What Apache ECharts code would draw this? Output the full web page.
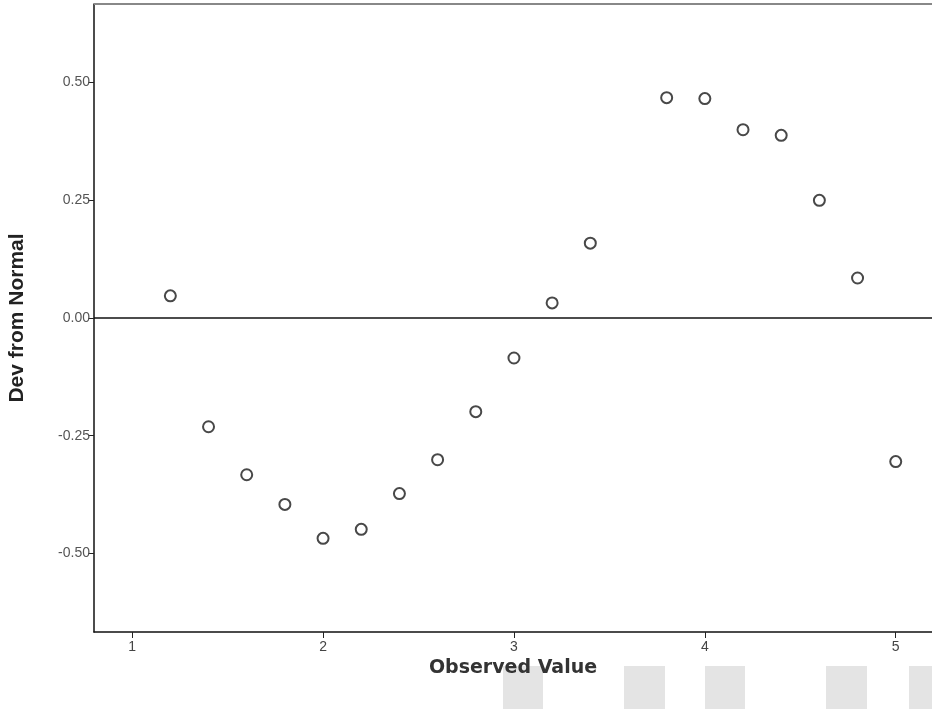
<!DOCTYPE html>
<html>
<head>
<meta charset="utf-8">
<script src="https://cdn.jsdelivr.net/npm/echarts@6/dist/echarts.min.js"></script>
<style>html,body{margin:0;padding:0;background:#fff}#c{width:932px;height:709px}</style>
</head>
<body>
<div id="c"></div>
<script>
const observed = [1.2, 1.4, 1.6, 1.8, 2.0, 2.2, 2.4, 2.6, 2.8, 3.0, 3.2, 3.4, 3.8, 4.0, 4.2, 4.4, 4.6, 4.8, 5.0];
const devFromNormal = [0.047, -0.231, -0.333, -0.396, -0.468, -0.449, -0.373, -0.301, -0.199, -0.085, 0.032, 0.159, 0.468, 0.466, 0.400, 0.388, 0.250, 0.085, -0.305];
const xTicks = [1, 2, 3, 4, 5];
const yTicks = [-0.5, -0.25, 0, 0.25, 0.5];

const chart = echarts.init(document.getElementById('c'), null, {renderer: 'canvas'});
chart.setOption({
  animation: false,
  backgroundColor: '#fff',
  graphic: [
    {type: 'rect', z: -10, shape: {x: 503, y: 666, width: 40, height: 43}, style: {fill: '#e4e4e4'}},
    {type: 'rect', z: -10, shape: {x: 624, y: 666, width: 41, height: 43}, style: {fill: '#e4e4e4'}},
    {type: 'rect', z: -10, shape: {x: 705, y: 666, width: 40, height: 43}, style: {fill: '#e4e4e4'}},
    {type: 'rect', z: -10, shape: {x: 826, y: 666, width: 41, height: 43}, style: {fill: '#e4e4e4'}},
    {type: 'rect', z: -10, shape: {x: 909, y: 666, width: 23, height: 43}, style: {fill: '#e4e4e4'}},
    {type: 'line', z: 10, shape: {x1: 94, y1: 4, x2: 932, y2: 4}, style: {stroke: '#888', lineWidth: 2}}
  ],
  grid: {left: 94, right: 0, top: 4, bottom: 77, containLabel: false, outerBoundsMode: 'none'},
  xAxis: {
    type: 'value', min: 0.8, max: 5.19,
    name: 'Observed Value', nameLocation: 'middle', nameGap: 22,
    nameTextStyle: {fontFamily: 'DejaVu Sans', fontWeight: 'bold', fontSize: 19, color: '#333'},
    axisLine: {show: true, onZero: false, lineStyle: {color: '#111', width: 1.5}},
    axisTick: {show: true, length: 6, customValues: xTicks, lineStyle: {color: '#222'}},
    axisLabel: {customValues: xTicks, fontFamily: 'Liberation Sans', fontSize: 14, color: '#444', margin: 8},
    splitLine: {show: false}
  },
  yAxis: {
    type: 'value', min: -0.667, max: 0.667,
    name: 'Dev from Normal', nameLocation: 'middle', nameGap: 66,
    nameTextStyle: {fontFamily: 'Liberation Sans', fontWeight: 'bold', fontSize: 21, color: '#222'},
    axisLine: {show: true, onZero: false, lineStyle: {color: '#111', width: 1.5}},
    axisTick: {show: true, length: 6, customValues: yTicks, lineStyle: {color: '#222'}},
    axisLabel: {customValues: yTicks, fontFamily: 'Liberation Sans', fontSize: 14, color: '#555', margin: 4,
      formatter: v => v.toFixed(2)},
    splitLine: {show: false}
  },
  series: [{
    type: 'scatter',
    data: observed.map((x, i) => [x, devFromNormal[i]]),
    symbol: 'circle', symbolSize: 11,
    itemStyle: {color: '#fff', borderColor: '#1a1a1a', borderWidth: 2},
    markLine: {
      silent: true, symbol: 'none', label: {show: false},
      lineStyle: {color: '#111', width: 1.5, type: 'solid'},
      data: [{yAxis: 0}]
    }
  }]
});
</script>
</body>
</html>
